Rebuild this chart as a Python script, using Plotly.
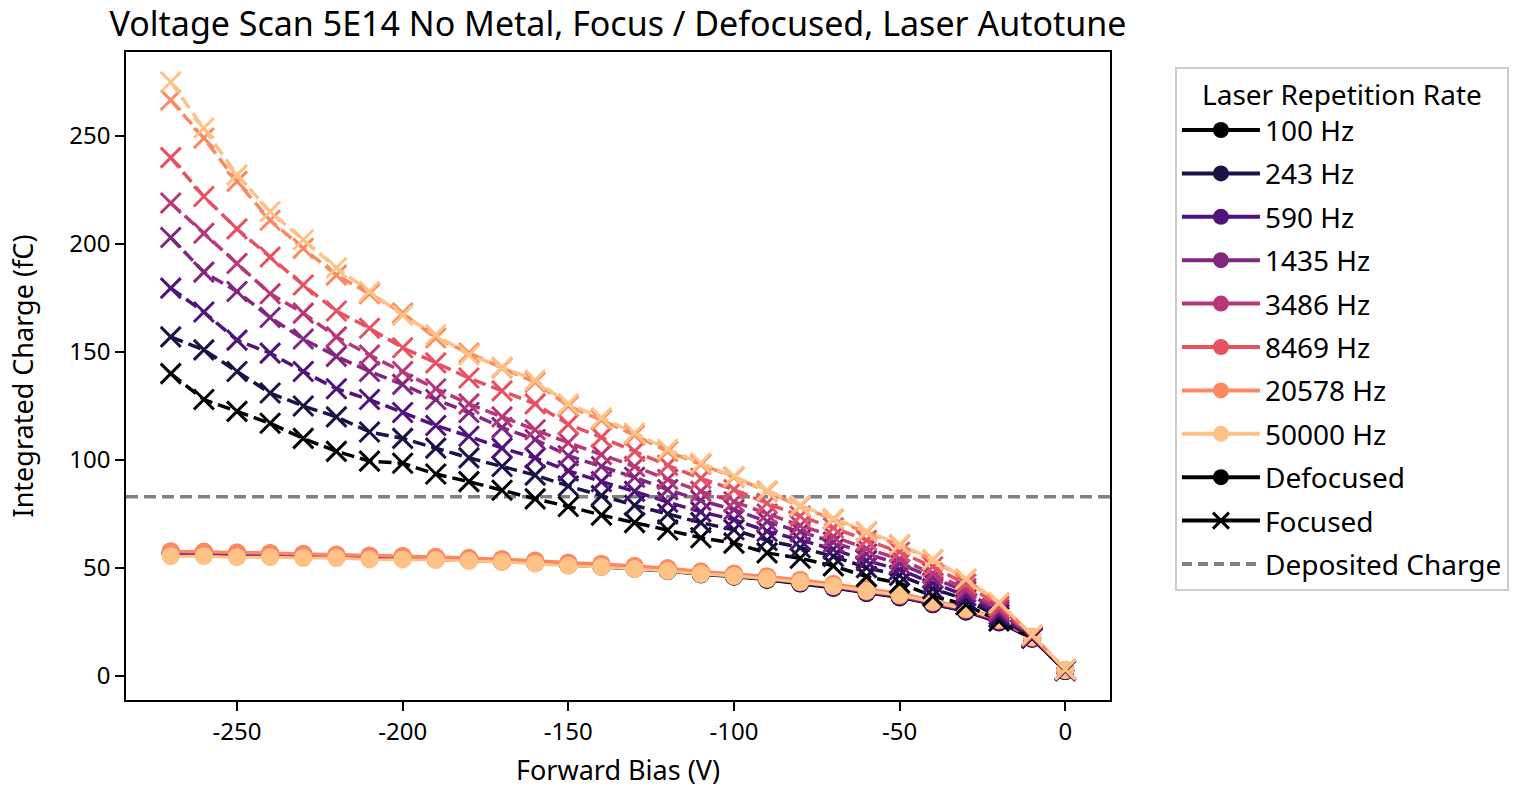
import plotly.graph_objects as go

bias = [-270, -260, -250, -240, -230, -220, -210, -200, -190, -180, -170, -160, -150, -140,
        -130, -120, -110, -100, -90, -80, -70, -60, -50, -40, -30, -20, -10, 0]

rates = ["100 Hz", "243 Hz", "590 Hz", "1435 Hz", "3486 Hz", "8469 Hz", "20578 Hz", "50000 Hz"]
colors = ["#000004", "#1d1147", "#51127c", "#822681", "#b73779", "#e75263", "#fc8961", "#fec287"]

focused_100 = [140, 128, 122.5, 117, 110, 104, 99.5, 98.5, 93.5, 90, 86, 82, 78.5, 74.5, 71, 67.6, 64, 61.5, 57, 54.5, 51, 46, 43, 37, 33, 25.5, 17.5, 2.5]
focused_243 = [157, 151, 141, 131, 125, 120, 113, 110, 105.5, 101, 97, 93, 88, 83.5, 79, 75, 71, 67.7, 62.8, 59.4, 55.4, 50.2, 46.6, 40.4, 35.4, 27.2, 17.8, 2.6]
focused_590 = [179.6, 168.5, 155.5, 149.5, 141, 133, 128, 122, 116, 111, 105.5, 101, 95, 90, 85.5, 80.5, 76, 72.4, 67, 63, 58.7, 53.4, 49.3, 43, 37.2, 28.5, 18, 2.7]
focused_1435 = [203, 187, 178, 166, 156, 148, 141, 135, 128, 122, 115, 109.5, 102, 97, 92, 86.3, 81.3, 77, 71.5, 66.8, 62, 56.5, 52, 45.5, 39, 29.8, 18.2, 2.8]
focused_3486 = [219, 205, 191, 177, 168, 157, 148.6, 141, 133, 126, 120, 114, 108, 102.5, 97, 91, 85.5, 80.7, 75, 69.7, 64.6, 59, 54.2, 47.5, 40.4, 30.8, 18.4, 2.9]
focused_8469 = [240, 222, 207, 194, 181, 169, 161, 152, 145, 138, 132, 126, 116.5, 110.5, 104, 97.5, 91.5, 86.3, 80, 74, 68.6, 62.8, 57.4, 50.6, 42.6, 32.3, 18.6, 3]
focused_20578 = [266.7, 249, 229, 211, 198, 185.6, 177, 168, 156.5, 149.5, 142.6, 136, 125, 118.5, 111.5, 104, 98, 92, 85.5, 78.5, 72.5, 66.6, 60.6, 53.7, 44.8, 33.8, 18.9, 3]
focused_50000 = [275, 253.7, 232, 215, 202, 189, 178, 167, 158, 148.6, 143, 137, 126, 119.5, 112.5, 105, 98.6, 92.5, 86, 79, 73, 67, 61, 54, 45, 34, 19, 3]

defocused_100 = [56.5, 56.4, 56, 55.8, 55.4, 55.2, 54.8, 54.5, 54.1, 53.6, 53, 52.3, 51.3, 50.6, 49.6, 48.5, 47, 46, 44.5, 42.8, 40.8, 38.4, 36.4, 33.2, 29.8, 24.8, 17.2, 2.3]
defocused_243 = [56.8, 56.6, 56.2, 56, 55.6, 55.4, 55, 54.7, 54.3, 53.8, 53.2, 52.5, 51.5, 50.8, 49.8, 48.7, 47.2, 46.2, 44.7, 43, 41, 38.6, 36.6, 33.4, 30, 25, 17.4, 2.4]
defocused_590 = [57, 56.8, 56.4, 56.2, 55.8, 55.6, 55.2, 54.9, 54.5, 54, 53.4, 52.7, 51.7, 51, 50, 48.9, 47.4, 46.4, 44.9, 43.2, 41.2, 38.8, 36.8, 33.6, 30.2, 25.2, 17.5, 2.5]
defocused_1435 = [57.2, 57, 56.6, 56.4, 56, 55.7, 55.3, 55, 54.6, 54.1, 53.5, 52.8, 51.8, 51.1, 50.1, 49, 47.5, 46.5, 45, 43.3, 41.3, 38.9, 36.9, 33.7, 30.4, 25.4, 17.6, 2.6]
defocused_3486 = [57.4, 57.2, 56.8, 56.6, 56.2, 55.9, 55.5, 55.2, 54.8, 54.3, 53.7, 53, 52, 51.3, 50.3, 49.2, 47.7, 46.7, 45.2, 43.6, 41.6, 39.2, 37.2, 34, 30.7, 25.7, 17.8, 2.7]
defocused_8469 = [57.6, 57.4, 57, 56.8, 56.4, 56.1, 55.6, 55.4, 55, 54.5, 54, 53.3, 52.3, 51.6, 50.6, 49.6, 48.1, 47.1, 45.7, 44.1, 42.2, 39.8, 37.8, 34.6, 31.2, 26.1, 18, 2.8]
defocused_20578 = [57.8, 57.6, 57.3, 57, 56.6, 56.3, 55.8, 55.6, 55.2, 54.7, 54.2, 53.5, 52.6, 52, 51, 50, 48.5, 47.5, 46.2, 44.6, 42.7, 40.4, 38.4, 35, 31.6, 26.4, 18.2, 2.9]
defocused_50000 = [55.5, 55.5, 55, 55, 54.6, 54.6, 54, 54, 53.7, 53.2, 52.8, 52, 51, 50.5, 49.5, 48.6, 47.2, 46.3, 45, 43.5, 41.7, 39.4, 37.5, 34.3, 31, 26, 18, 2.8]

deposited_charge = 83

x_ticks = [-250, -200, -150, -100, -50, 0]
x_ticklabels = ["-250", "-200", "-150", "-100", "-50", "0"]
y_ticks = [0, 50, 100, 150, 200, 250]

focused = [focused_100, focused_243, focused_590, focused_1435, focused_3486, focused_8469, focused_20578, focused_50000]
defocused = [defocused_100, defocused_243, defocused_590, defocused_1435, defocused_3486, defocused_8469, defocused_20578, defocused_50000]

x_range = [-283.5, 13.5]
y_range = [-11.1, 288.9]

FONT = "Noto Sans"
fig = go.Figure()

# Deposited charge reference line
fig.add_trace(go.Scatter(x=x_range, y=[deposited_charge, deposited_charge], mode="lines",
                         line=dict(color="#808080", width=3.5, dash="12px,6px"),
                         showlegend=False, hoverinfo="skip"))

for c, d in zip(colors, defocused):
    fig.add_trace(go.Scatter(x=bias, y=d, mode="lines+markers",
                             line=dict(color=c, width=3),
                             marker=dict(symbol="circle", size=18, color=c),
                             showlegend=False))

for c, f in zip(colors, focused):
    fig.add_trace(go.Scatter(x=bias, y=f, mode="lines+markers",
                             line=dict(color=c, width=3.5, dash="13px,6px"),
                             marker=dict(symbol="x-thin", size=20, color=c,
                                         line=dict(color=c, width=3)),
                             showlegend=False))

# Legend entries
for i, (r, c) in enumerate(zip(rates, colors)):
    fig.add_trace(go.Scatter(x=[None], y=[None], mode="lines+markers", name=r,
                             line=dict(color=c, width=4),
                             marker=dict(symbol="circle", size=19, color=c),
                             legendgroup=f"g{i}"))
fig.add_trace(go.Scatter(x=[None], y=[None], mode="lines+markers", name="Defocused",
                         line=dict(color="black", width=4),
                         marker=dict(symbol="circle", size=19, color="black"),
                         legendgroup="g8"))
fig.add_trace(go.Scatter(x=[None], y=[None], mode="lines+markers", name="Focused",
                         line=dict(color="black", width=4),
                         marker=dict(symbol="x-thin", size=18, color="black",
                                     line=dict(color="black", width=3)),
                         legendgroup="g9"))
fig.add_trace(go.Scatter(x=[None], y=[None], mode="lines", name="Deposited Charge",
                         line=dict(color="#808080", width=4, dash="10px,6px"),
                         legendgroup="g10"))

axis_common = dict(showline=True, linecolor="black", linewidth=1.5, mirror=True,
                   ticks="outside", ticklen=9, tickwidth=1.5, tickcolor="black",
                   showgrid=False, zeroline=False, automargin=False,
                   tickfont=dict(family=FONT, size=24, color="black"))

fig.update_layout(
    width=1517, height=790,
    margin=dict(l=126, r=407, t=52, b=90, autoexpand=False),
    paper_bgcolor="white", plot_bgcolor="white",
    title=dict(text="Voltage Scan 5E14 No Metal, Focus / Defocused, Laser Autotune",
               x=(126 + 1110) / 2 / 1517, xanchor="center", y=1 - 24 / 790, yanchor="middle",
               font=dict(family=FONT, size=34, color="black")),
    xaxis=dict(range=x_range, tickvals=x_ticks, ticktext=x_ticklabels,
               title=dict(text="Forward Bias (V)", font=dict(family=FONT, size=27, color="black"), standoff=16),
               **axis_common),
    yaxis=dict(range=y_range, tickvals=y_ticks,
               title=dict(text="Integrated Charge (fC)", font=dict(family=FONT, size=27, color="black"), standoff=28),
               **axis_common),
    legend=dict(x=1.066, xanchor="left", y=0.977, yanchor="top",
                bordercolor="#cccccc", borderwidth=2, bgcolor="white",
                font=dict(family=FONT, size=28, color="black"),
                tracegroupgap=4, itemwidth=78,
                title=dict(text="Laser Repetition Rate", side="top center",
                           font=dict(family=FONT, size=28, color="black"))),
    showlegend=True,
)

fig.write_html("out.html")
